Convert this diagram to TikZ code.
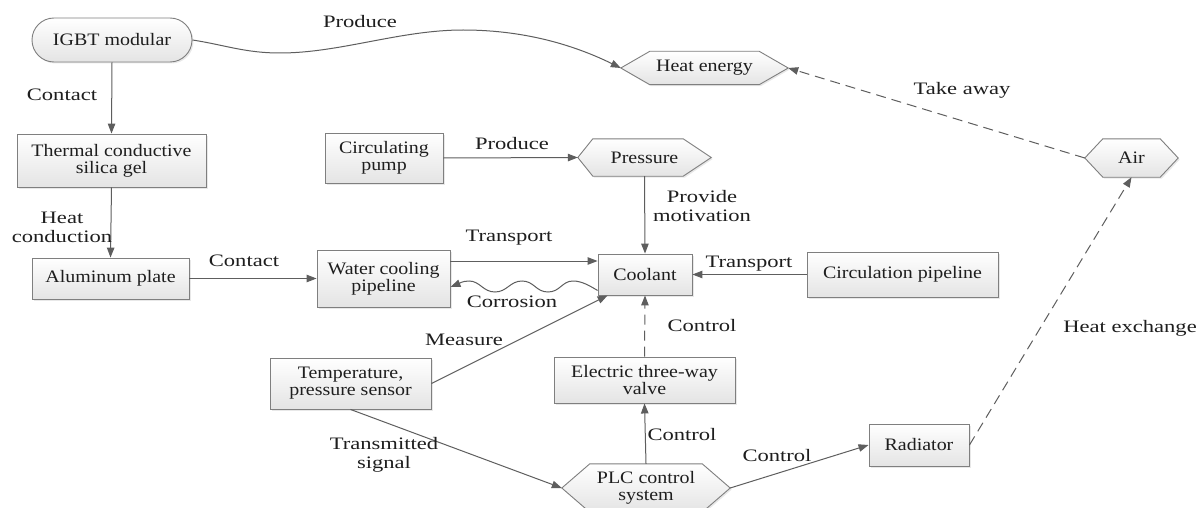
\documentclass[tikz,border=0pt]{standalone}
\usepackage{fontspec}
\setmainfont{Liberation Serif}
\newfontfamily\nodefont{Liberation Serif}[FakeStretch=1.14]
\newfontfamily\labfont{Liberation Serif}[FakeStretch=1.29]
\usetikzlibrary{arrows.meta,shadows,backgrounds,calc}
\definecolor{linec}{HTML}{5E5E5E}
\definecolor{boxc}{HTML}{7F7F7F}
\definecolor{fillb}{HTML}{E4E4E4}
\definecolor{txt}{HTML}{1E1E1E}
\tikzset{
 nfont/.style={font=\nodefont\fontsize{17.5}{17}\selectfont, text=txt},
 box/.style={nfont, draw=boxc, line width=0.9pt, top color=white, bottom color=fillb,
   drop shadow={opacity=0.18, shadow xshift=1.5pt, shadow yshift=-1.5pt},
   inner sep=0pt, align=center},
 hexnode/.style={nfont, inner sep=0pt, align=center},
 hexshape/.style={draw=boxc, line width=0.9pt, top color=white, bottom color=fillb,
   drop shadow={opacity=0.18, shadow xshift=1.5pt, shadow yshift=-1.5pt}},
 lab/.style={font=\labfont\fontsize{17.5}{19}\selectfont, text=txt, align=center, inner sep=0pt},
 conn/.style={draw=linec, line width=1pt, -{Triangle[length=10pt,width=7.5pt]}},
 dconn/.style={conn, dash pattern=on 10pt off 6pt},
}
\begin{document}
\begin{tikzpicture}[x=1pt,y=-1pt]
\clip (0,0) rectangle (1198,508);
% rectangular / rounded nodes
\node[box, rounded corners=22pt, minimum width=160pt, minimum height=44pt] (igbt) at (112,40) {IGBT modular};
\node[box, minimum width=189pt, minimum height=53pt] (therm) at (111.5,160.5) {Thermal conductive\\silica gel};
\node[box, minimum width=157pt, minimum height=41pt] (alu) at (110.5,278.5) {Aluminum plate};
\node[box, minimum width=118pt, minimum height=50pt] (pump) at (384,158) {Circulating\\pump};
\node[box, minimum width=133pt, minimum height=57pt] (wcp) at (383.5,278.5) {Water cooling\\pipeline};
\node[box, minimum width=94pt, minimum height=41pt] (cool) at (645,274.5) {Coolant};
\node[box, minimum width=191pt, minimum height=45pt] (circ) at (902.5,274.5) {Circulation pipeline};
\node[box, minimum width=161pt, minimum height=51pt] (sens) at (350.5,383.5) {Temperature,\\pressure sensor};
\node[box, minimum width=181pt, minimum height=46pt] (valve) at (644.5,380) {Electric three-way\\valve};
\node[box, minimum width=100pt, minimum height=42pt] (rad) at (919,445) {Radiator};
% hexagon nodes
\node[hexnode, minimum width=167pt, minimum height=33pt] (heat) at (704.5,68) {Heat energy};
\node[hexnode, minimum width=133pt, minimum height=37pt] (press) at (644.5,157.5) {Pressure};
\node[hexnode, minimum width=93pt, minimum height=38pt] (air) at (1131.5,158) {Air};
\node[hexnode, minimum width=168pt, minimum height=48pt] (plc) at (646,488) {PLC control\\system};
\begin{pgfonlayer}{background}
\fill[white] (0,0) rectangle (1198,508);
\path[hexshape] (heat.west) -- ([xshift=29pt]heat.north west) -- ([xshift=-29pt]heat.north east) -- (heat.east) -- ([xshift=-29pt]heat.south east) -- ([xshift=29pt]heat.south west) -- cycle;
\path[hexshape] (press.west) -- ([xshift=15pt]press.north west) -- ([xshift=-28pt]press.north east) -- (press.east) -- ([xshift=-28pt]press.south east) -- ([xshift=15pt]press.south west) -- cycle;
\path[hexshape] (air.west) -- ([xshift=18pt]air.north west) -- ([xshift=-18pt]air.north east) -- (air.east) -- ([xshift=-18pt]air.south east) -- ([xshift=18pt]air.south west) -- cycle;
\path[hexshape] (plc.west) -- ([xshift=28pt]plc.north west) -- ([xshift=-28pt]plc.north east) -- (plc.east) -- ([xshift=-28pt]plc.south east) -- ([xshift=28pt]plc.south west) -- cycle;
\end{pgfonlayer}
% helper coordinates
\coordinate (p1) at (280,53);
\coordinate (p2) at (463,30);
\coordinate (t1) at ([yshift=17.5pt]wcp.east);
\coordinate (c1) at ([yshift=5pt]cool.south west);
\coordinate (c2) at ([yshift=-8.5pt]wcp.east);
\coordinate (m1) at ([xshift=10pt]cool.south west);
% connectors
\draw[conn] (igbt.east) .. controls (225,45) and (245,53) .. (p1)
  .. controls (340,53) and (400,30) .. (p2)
  .. controls (530,30) and (580,48) .. (heat.west);
\draw[conn] (igbt.south) -- (therm.north);
\draw[conn] (therm.south) -- (alu.north);
\draw[conn] (alu.east) -- (wcp.west);
\draw[conn] (pump.east) -- (press.west);
\draw[conn] (press.south) -- (cool.north);
\draw[conn] (t1) -- (t1 -| cool.west);
\draw[conn] (c1) .. controls (590,286) and (582,281) .. (573,281)
  .. controls (562,281) and (560,292) .. (548,292)
  .. controls (536,292) and (534,281) .. (522,281)
  .. controls (510,281) and (507,292) .. (495,292)
  .. controls (483,292) and (480,281) .. (469,281)
  .. controls (462,281) and (458,284) .. (c2);
\draw[conn] (circ.west) -- (cool.east);
\draw[conn] (sens.east) -- (m1);
\draw[dconn] (valve.north) -- (cool.south);
\draw[conn] (sens.south) -- (plc.west);
\draw[conn] (plc.north) -- (valve.south);
\draw[conn] (plc.east) -- (rad.west);
\draw[dconn] (rad.east) -- (air.south);
\draw[dconn] (air.west) -- (heat.east);
% labels
\node[lab] (l1) at (360,22) {Produce};
\node[lab] (l2) at (62,95) {Contact};
\node[lab] (l3) at (62,227) {Heat\\conduction};
\node[lab] (l4) at (244,261) {Contact};
\node[lab] (l5) at (512,144) {Produce};
\node[lab] (l6) at (702,206) {Provide\\motivation};
\node[lab] (l7) at (509,238) {Transport};
\node[lab] (l8) at (749,264) {Transport};
\node[lab] (l9) at (512,302) {Corrosion};
\node[lab] (l10) at (702,326) {Control};
\node[lab] (l11) at (464,340) {Measure};
\node[lab] (l12) at (384,455) {Transmitted\\signal};
\node[lab] (l13) at (682,435) {Control};
\node[lab] (l14) at (777,456) {Control};
\node[lab] (l15) at (1130,328) {Heat exchange};
\node[lab] (l16) at (962,90) {Take away};
\end{tikzpicture}
\end{document}
